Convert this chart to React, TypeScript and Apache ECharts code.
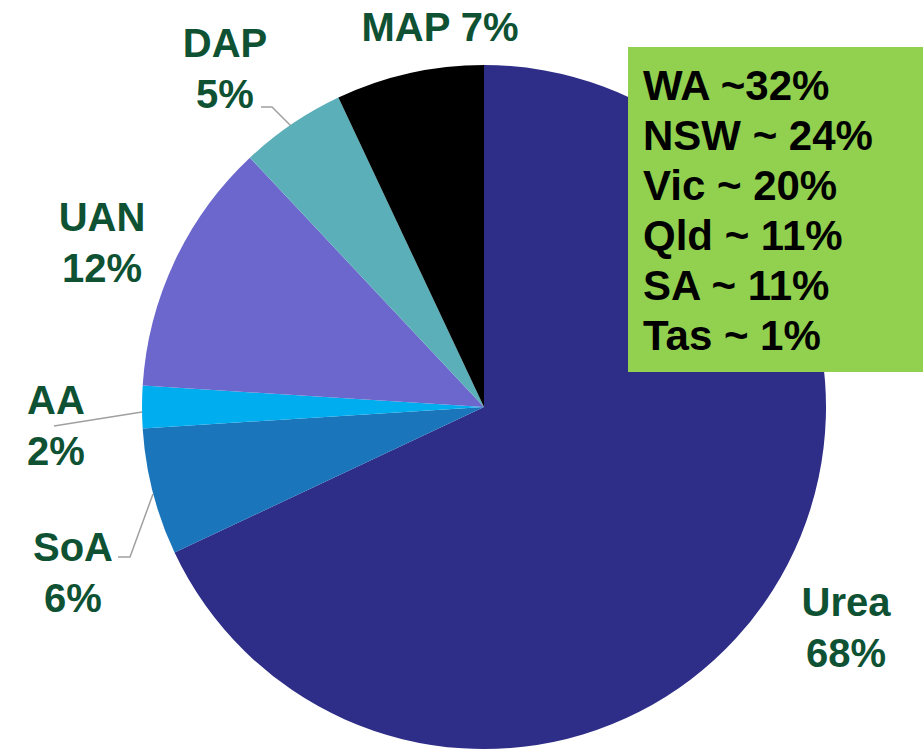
import React, { useEffect, useRef } from "react";
import * as echarts from "echarts";

const categories = ["Urea", "SoA", "AA", "UAN", "DAP", "MAP"];
const shares = [68, 6, 2, 12, 5, 7];
const sliceColors = ["#2E2D88", "#1B75BB", "#00AEEF", "#6B67CC", "#5BAFB8", "#000000"];
const regionLabels = ["WA ~32%", "NSW ~ 24%", "Vic ~ 20%", "Qld ~ 11%", "SA ~ 11%", "Tas ~ 1%"];

// label placement (layout only)
const labelPos: Record<string, { x: number; y: number; line?: number[][] }> = {
  Urea: { x: 846, y: 627 },
  SoA: { x: 73, y: 572, line: [[153, 494], [130, 557], [118, 557]] },
  AA: { x: 56, y: 425, line: [[142, 412], [54, 426]] },
  UAN: { x: 102, y: 242 },
  DAP: { x: 225, y: 68, line: [[291, 126], [272, 107], [261, 107]] },
  MAP: { x: 440, y: 27 },
};

const FONT = "'Liberation Sans', Arial, Helvetica, sans-serif";

export default function App() {
  const ref = useRef<HTMLDivElement>(null);
  useEffect(() => {
    if (!ref.current) return;
    const chart = echarts.init(ref.current, null, { renderer: "svg" });
    const data = categories.map((name, i) => ({
      name,
      value: shares[i],
      itemStyle: { color: sliceColors[i] },
      labelLine: { show: !!labelPos[name].line },
    }));
    chart.setOption({
      animation: false,
      backgroundColor: "#ffffff",
      series: [
        {
          type: "pie",
          center: [484, 407],
          radius: 342,
          startAngle: 90,
          clockwise: true,
          data,
          emphasis: { disabled: true },
          label: {
            show: true,
            position: "outside",
            formatter: (p: any) =>
              p.name === "MAP" ? `${p.name} ${p.value}%` : `${p.name}\n${p.value}%`,
            fontFamily: FONT,
            fontWeight: "bold",
            fontSize: 40,
            lineHeight: 51,
            color: "#0E5233",
            align: "center",
          },
          labelLine: {
            show: true,
            lineStyle: { color: "#A0A0A0", width: 1.5 },
          },
          labelLayout: (params: any) => {
            const name = categories[params.dataIndex];
            const pos = labelPos[name];
            const out: any = { x: pos.x, y: pos.y, align: "center", verticalAlign: "middle" };
            if (pos.line) out.labelLinePoints = pos.line;
            return out;
          },
        },
      ],
      graphic: [
        {
          type: "group",
          left: 628,
          top: 47,
          z: 100,
          children: [
            {
              type: "rect",
              z: 100,
              shape: { x: 0, y: 0, width: 295, height: 325 },
              style: { fill: "#92D050" },
            },
            {
              type: "text",
              z: 101,
              x: 15,
              y: 13,
              style: {
                text: regionLabels.join("\n"),
                font: `bold 42px ${FONT}`,
                lineHeight: 50,
                fill: "#000000",
                verticalAlign: "top",
              },
            },
          ],
        },
      ],
    });
    return () => chart.dispose();
  }, []);
  return (
    <div
      ref={ref}
      style={{ position: "fixed", left: 0, top: 0, width: 923, height: 752 }}
    />
  );
}
